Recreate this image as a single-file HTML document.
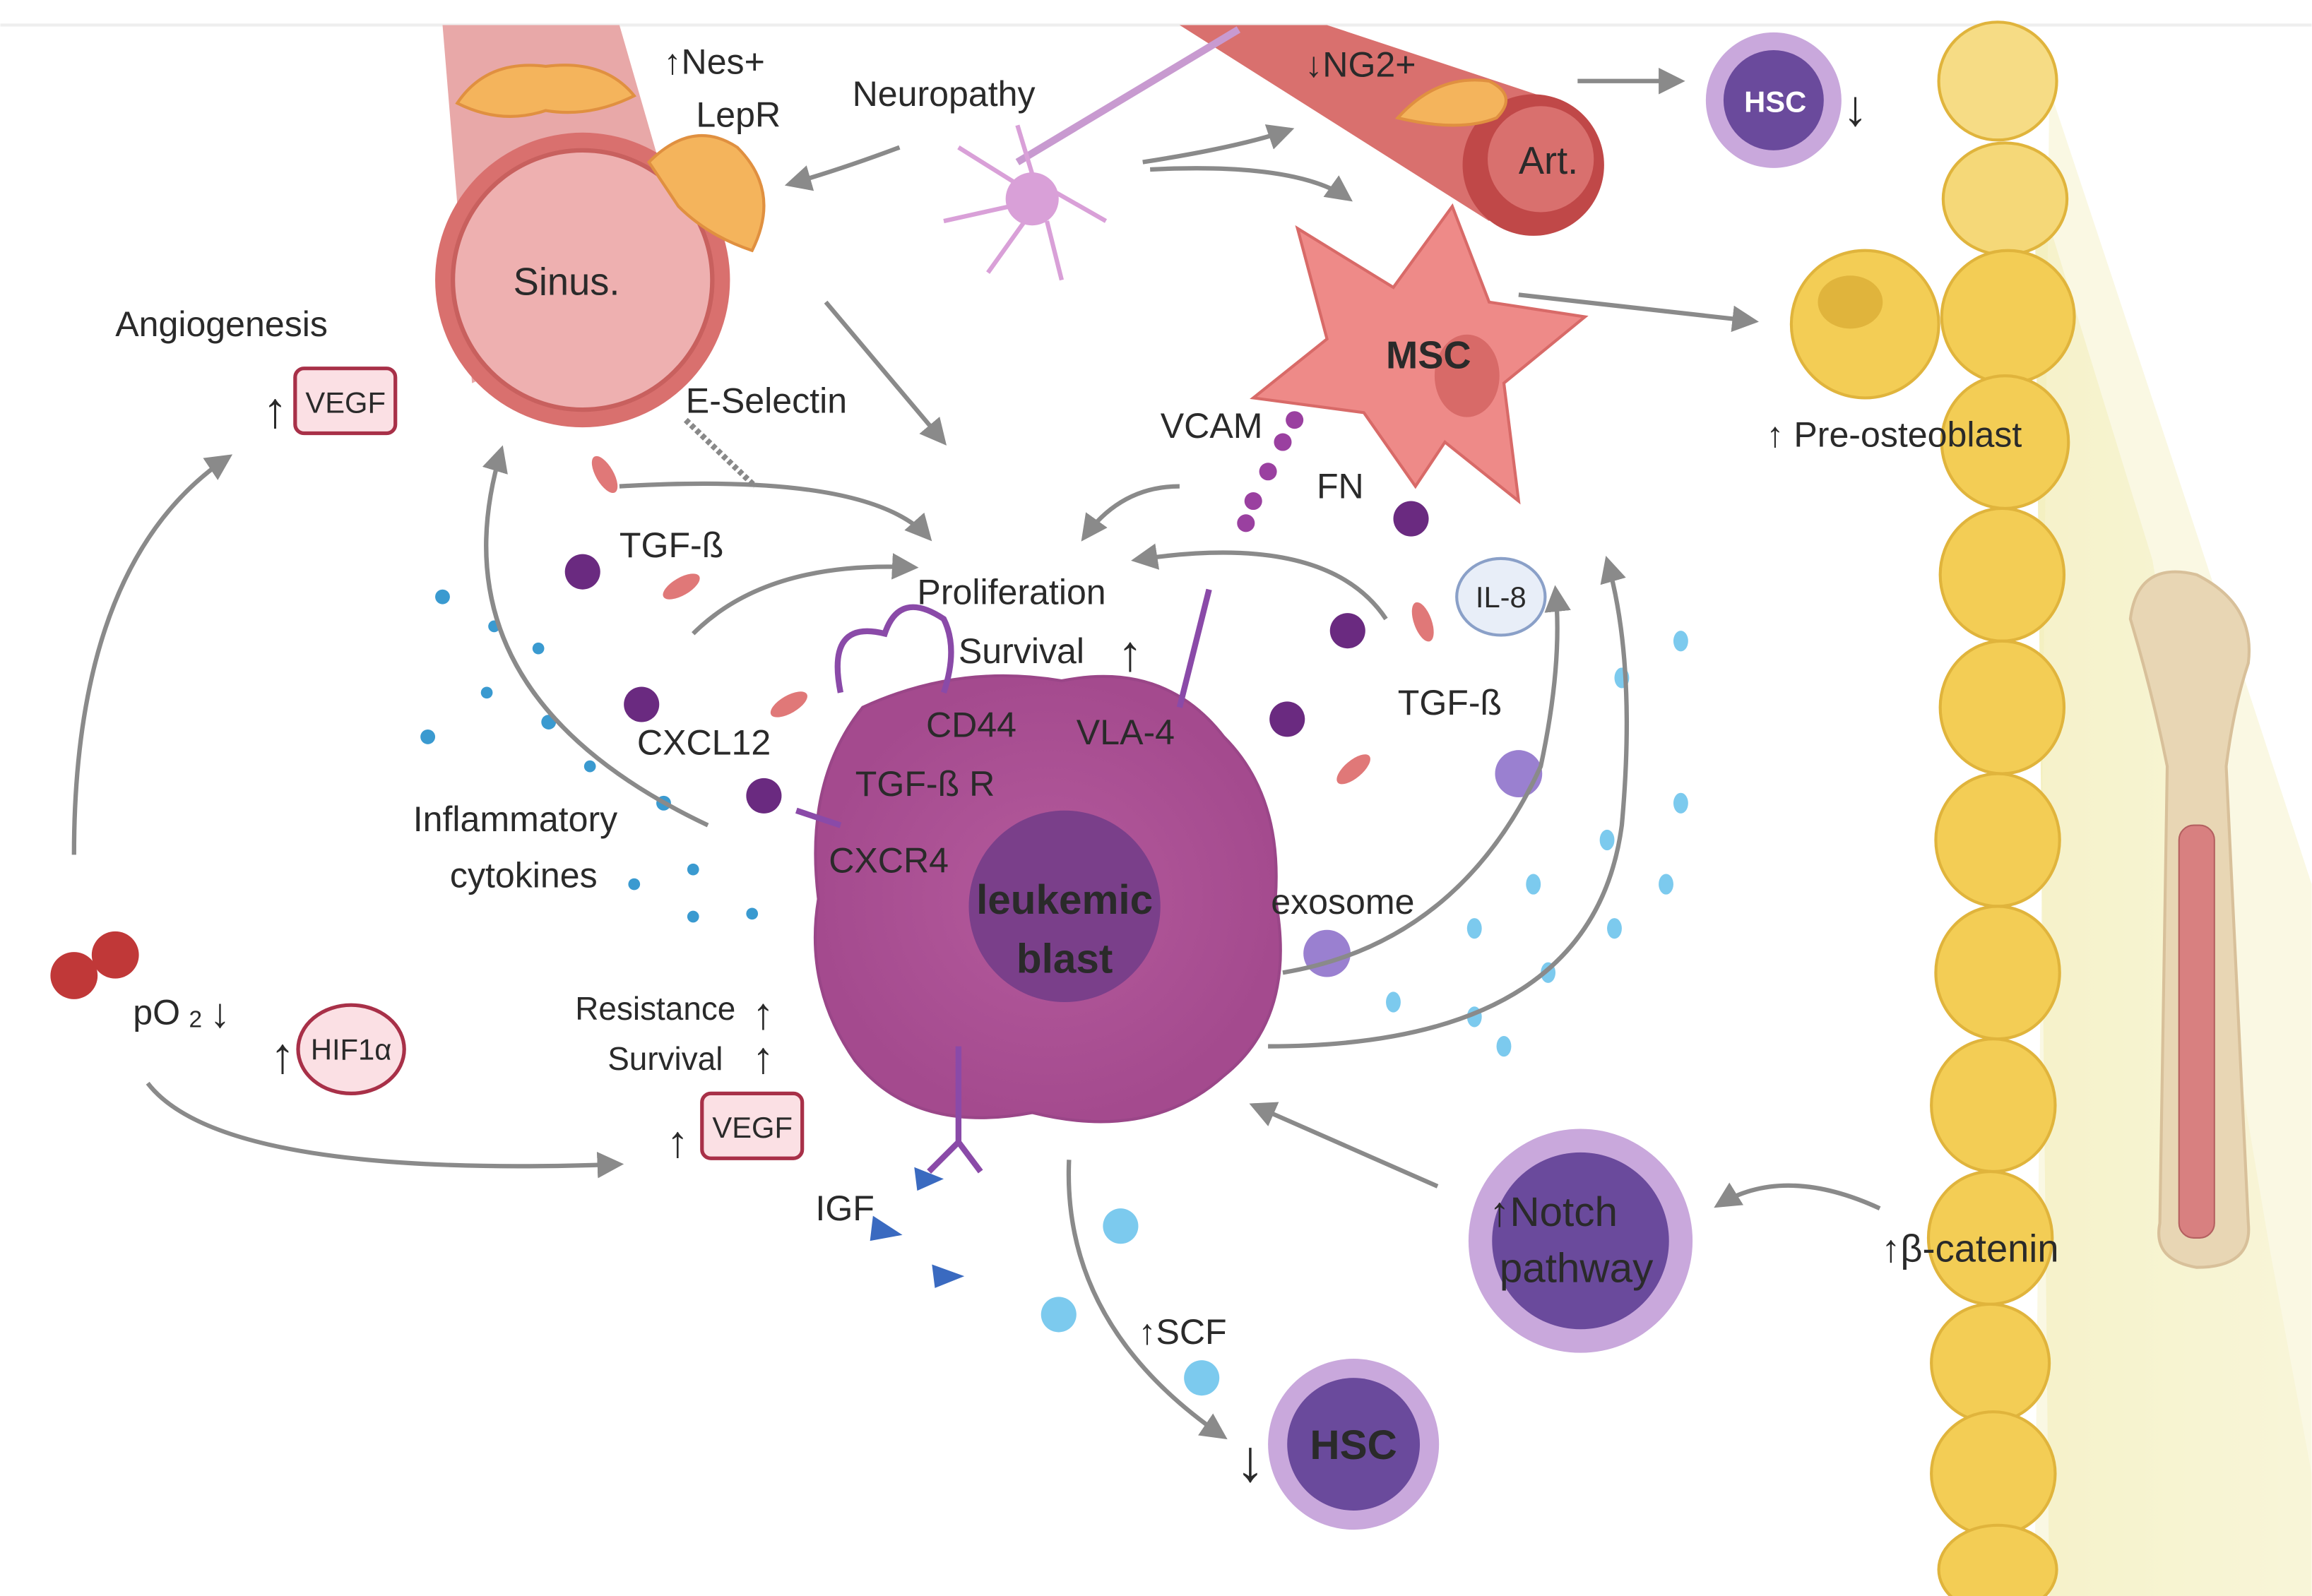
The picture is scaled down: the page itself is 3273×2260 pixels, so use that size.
<!DOCTYPE html>
<html><head><meta charset="utf-8"><style>
html,body{margin:0;padding:0;background:#fff}
svg{display:block}
text{font-family:"Liberation Sans",sans-serif;fill:#2a2a2a}
.b{font-weight:bold}
</style></head><body>
<svg width="3273" height="2260" viewBox="0 0 1568 1083" xmlns="http://www.w3.org/2000/svg">
<defs>
<marker id="ah" markerWidth="6" markerHeight="6" refX="5" refY="3" orient="auto" markerUnits="strokeWidth"><path d="M0,0 L6,3 L0,6 z" fill="#8a8a8a"/></marker>
<linearGradient id="cone" x1="0" y1="0" x2="1" y2="0"><stop offset="0" stop-color="#f4f0c0"/><stop offset="1" stop-color="#faf8e4"/></linearGradient>
<radialGradient id="blob" cx="0.5" cy="0.5" r="0.5"><stop offset="0" stop-color="#b45a9c"/><stop offset="1" stop-color="#a44a8e"/></radialGradient>
</defs>
<rect width="1568" height="1083" fill="#fff"/>
<line x1="0" y1="17" x2="1568" y2="17" stroke="#eee" stroke-width="2"/>
<path d="M1380,120 L1460,380 L1540,850 L1568,1000 L1568,1083 L1390,1083 Z" fill="url(#cone)"/>
<path d="M1390,60 Q1470,300 1568,600 L1568,1083 L1380,1083 Z" fill="#f6f3d0" opacity="0.6"/>
<g fill="#f3cd55" stroke="#e0b43c" stroke-width="2">
<ellipse cx="1355" cy="55" rx="40" ry="40" fill="#f6dc85"/>
<ellipse cx="1360" cy="135" rx="42" ry="38" fill="#f5d878"/>
<ellipse cx="1362" cy="215" rx="45" ry="45"/>
<ellipse cx="1360" cy="300" rx="43" ry="45"/>
<ellipse cx="1358" cy="390" rx="42" ry="45"/>
<ellipse cx="1358" cy="480" rx="42" ry="45"/>
<ellipse cx="1355" cy="570" rx="42" ry="45"/>
<ellipse cx="1355" cy="660" rx="42" ry="45"/>
<ellipse cx="1352" cy="750" rx="42" ry="45"/>
<ellipse cx="1350" cy="840" rx="42" ry="45"/>
<ellipse cx="1350" cy="925" rx="40" ry="40"/>
<ellipse cx="1352" cy="1000" rx="42" ry="42"/>
<ellipse cx="1355" cy="1065" rx="40" ry="30"/>
</g>
<ellipse cx="1265" cy="220" rx="50" ry="50" fill="#f3cd55" stroke="#e0b43c" stroke-width="2"/>
<ellipse cx="1255" cy="205" rx="22" ry="18" fill="#e0b43c"/>
<path d="M1445,420 Q1450,380 1490,390 Q1530,410 1525,450 Q1515,480 1510,520 L1525,830 Q1528,860 1490,860 Q1460,855 1465,830 L1470,520 Q1460,470 1445,420 Z" fill="#e8d6b4" stroke="#d8c09a" stroke-width="2"/>
<rect x="1478" y="560" width="24" height="280" rx="10" fill="#d88080" stroke="#b46060"/>
<path d="M300,17 L420,17 L470,190 L320,260 Z" fill="#e8a8a8"/>
<circle cx="395" cy="190" r="100" fill="#d9706e"/>
<circle cx="395" cy="190" r="88" fill="#eeb0b0" stroke="#c8605e" stroke-width="3"/>
<text x="348" y="200" font-size="26">Sinus.</text>
<g fill="#f4b45c" stroke="#e09040" stroke-width="2">
<path d="M310,70 Q330,40 370,45 Q410,40 430,65 Q400,80 370,75 Q340,85 310,70Z"/>
<path d="M440,110 Q470,80 500,100 Q530,130 510,170 Q480,160 460,140 Z"/>
</g>
<path d="M800,17 L900,17 L1060,70 L1010,150 Z" fill="#d9706e"/>
<circle cx="1040" cy="112" r="48" fill="#c04848"/>
<circle cx="1045" cy="108" r="36" fill="#d9706e"/>
<text x="1030" y="118" font-size="26">Art.</text>
<path d="M948,80 Q975,50 1010,55 Q1030,65 1015,80 Q990,90 948,80Z" fill="#f4b45c" stroke="#e09040" stroke-width="2"/>
<line x1="690" y1="110" x2="840" y2="20" stroke="#c89ad0" stroke-width="5"/>
<circle cx="700" cy="135" r="18" fill="#d9a0d8"/>
<g stroke="#d9a0d8" stroke-width="3" fill="none">
<path d="M690,125 L650,100 M685,140 L640,150 M695,150 L670,185 M710,150 L720,190 M715,130 L750,150 M700,118 L690,85"/>
</g>
<circle cx="1203" cy="68" r="46" fill="#c9a8dc"/>
<circle cx="1203" cy="68" r="34" fill="#6a4a9c"/>
<text x="1183" y="76" font-size="20" font-weight="bold" style="fill:#fff">HSC</text>
<text x="1250" y="85" font-size="34" class="b">↓</text>
<path d="M880,155 L945,195 L985,140 L1010,205 L1075,215 L1020,260 L1030,340 L980,300 L960,330 L925,280 L850,270 L900,230 Z" fill="#ee8a88" stroke="#d86a68" stroke-width="2"/>
<ellipse cx="995" cy="255" rx="22" ry="28" fill="#d86a68"/>
<text x="940" y="250" font-size="26" font-weight="bold">MSC</text>
<path d="M585,480 Q650,450 720,462 Q790,448 830,500 Q870,540 865,610 Q880,690 830,730 Q780,775 700,755 Q620,770 580,720 Q545,670 555,610 Q545,530 585,480Z" fill="url(#blob)" stroke="#9a4688" stroke-width="2"/>
<circle cx="722" cy="615" r="65" fill="#7a3f8a"/>
<text x="722" y="620" font-size="28" font-weight="bold" text-anchor="middle">leukemic</text>
<text x="722" y="660" font-size="28" font-weight="bold" text-anchor="middle">blast</text>
<circle cx="1072" cy="842" r="76" fill="#c9a8dc"/>
<circle cx="1072" cy="842" r="60" fill="#6a4a9c"/>
<text x="1010" y="832" font-size="28">↑Notch</text>
<text x="1017" y="870" font-size="28">pathway</text>
<circle cx="918" cy="980" r="58" fill="#c9a8dc"/>
<circle cx="918" cy="980" r="45" fill="#6a4a9c"/>
<text x="918" y="990" font-size="28" font-weight="bold" text-anchor="middle">HSC</text>
<text x="838" y="1005" font-size="40" class="b">↓</text>
<circle cx="50" cy="662" r="16" fill="#c03838"/><circle cx="78" cy="648" r="16" fill="#c03838"/>
<rect x="200" y="250" width="68" height="44" rx="6" fill="#fbe0e4" stroke="#a83048" stroke-width="2.5"/>
<text x="207" y="280" font-size="20">VEGF</text>
<rect x="476" y="742" width="68" height="44" rx="6" fill="#fbe0e4" stroke="#a83048" stroke-width="2.5"/>
<text x="483" y="772" font-size="20">VEGF</text>
<ellipse cx="238" cy="712" rx="36" ry="30" fill="#fbe0e4" stroke="#a83048" stroke-width="2.5"/>
<text x="238" y="719" font-size="20" text-anchor="middle">HIF1α</text>
<ellipse cx="1018" cy="405" rx="30" ry="26" fill="#e8eef8" stroke="#8aa0c8" stroke-width="2"/>
<text x="1018" y="412" font-size="20" text-anchor="middle">IL-8</text>
<g fill="#6a2a80">
<circle cx="395" cy="388" r="12"/><circle cx="435" cy="478" r="12"/><circle cx="518" cy="540" r="12"/><circle cx="873" cy="488" r="12"/><circle cx="914" cy="428" r="12"/><circle cx="957" cy="352" r="12"/>
</g>
<g fill="#e07878">
<ellipse cx="410" cy="322" rx="6" ry="14" transform="rotate(-30 410 322)"/><ellipse cx="462" cy="398" rx="6" ry="14" transform="rotate(60 462 398)"/><ellipse cx="535" cy="478" rx="6" ry="14" transform="rotate(60 535 478)"/><ellipse cx="965" cy="422" rx="6" ry="14" transform="rotate(-20 965 422)"/><ellipse cx="918" cy="522" rx="6" ry="14" transform="rotate(50 918 522)"/>
</g>
<g fill="#3a9ad0">
<circle cx="300" cy="405" r="5"/><circle cx="335" cy="425" r="4"/><circle cx="365" cy="440" r="4"/><circle cx="290" cy="500" r="5"/><circle cx="372" cy="490" r="5"/><circle cx="330" cy="470" r="4"/><circle cx="400" cy="520" r="4"/><circle cx="450" cy="545" r="5"/><circle cx="470" cy="590" r="4"/><circle cx="430" cy="600" r="4"/><circle cx="470" cy="622" r="4"/><circle cx="510" cy="620" r="4"/>
</g>
<g fill="#7ccaee">
<ellipse cx="1140" cy="435" rx="5" ry="7"/><ellipse cx="1100" cy="460" rx="5" ry="7"/><ellipse cx="1140" cy="545" rx="5" ry="7"/><ellipse cx="1090" cy="570" rx="5" ry="7"/><ellipse cx="1040" cy="600" rx="5" ry="7"/><ellipse cx="1000" cy="630" rx="5" ry="7"/><ellipse cx="1095" cy="630" rx="5" ry="7"/><ellipse cx="1050" cy="660" rx="5" ry="7"/><ellipse cx="1000" cy="690" rx="5" ry="7"/><ellipse cx="945" cy="680" rx="5" ry="7"/><ellipse cx="1130" cy="600" rx="5" ry="7"/><ellipse cx="1020" cy="710" rx="5" ry="7"/>
<circle cx="760" cy="832" r="12"/><circle cx="718" cy="892" r="12"/><circle cx="815" cy="935" r="12"/>
</g>
<circle cx="1030" cy="525" r="16" fill="#9a80d0"/><circle cx="900" cy="647" r="16" fill="#9a80d0"/>
<g fill="#3a6ac0"><path d="M592,825 L612,838 L590,842Z"/><path d="M632,858 L654,866 L634,874Z"/><path d="M620,792 L640,800 L622,808Z"/></g>
<g stroke="#8a4aa8" stroke-width="4" fill="none">
<path d="M650,710 L650,775 L630,795 M650,775 L665,795"/>
<path d="M570,470 Q560,420 600,430 Q610,400 640,420 Q650,440 640,470"/>
<path d="M800,480 L820,400"/>
<path d="M540,550 L570,560"/>
</g>
<g fill="#9a40a0"><circle cx="850" cy="340" r="6"/><circle cx="860" cy="320" r="6"/><circle cx="870" cy="300" r="6"/><circle cx="878" cy="285" r="6"/><circle cx="845" cy="355" r="6"/></g>
<g stroke="#8a8a8a" stroke-width="3" fill="none" marker-end="url(#ah)">
<path d="M50,580 Q50,380 155,310"/>
<path d="M100,735 Q150,800 420,790"/>
<path d="M610,100 Q570,115 535,125"/>
<path d="M775,110 Q840,100 875,88"/>
<path d="M780,115 Q880,110 915,135"/>
<path d="M1070,55 L1140,55"/>
<path d="M1030,200 L1190,218"/>
<path d="M560,205 L640,300"/>
<path d="M480,560 Q290,470 340,305"/>
<path d="M470,430 Q520,380 620,385"/>
<path d="M420,330 Q590,320 630,365"/>
<path d="M800,330 Q760,330 735,365"/>
<path d="M940,420 Q900,360 770,380"/>
<path d="M870,660 Q990,640 1045,520 Q1060,450 1055,400"/>
<path d="M860,710 Q1080,710 1100,560 Q1110,450 1090,380"/>
<path d="M975,805 L850,750"/>
<path d="M1275,820 Q1210,790 1165,818"/>
<path d="M725,787 Q720,900 830,975"/>
</g>
<line x1="465" y1="285" x2="512" y2="330" stroke="#888" stroke-width="4" stroke-dasharray="3,2"/>
<g font-size="24">
<text x="450" y="50">↑Nes+</text><text x="472" y="86">LepR</text>
<text x="578" y="72">Neuropathy</text>
<text x="885" y="52">↓NG2+</text>
<text x="78" y="228">Angiogenesis</text>
<text x="178" y="290" font-size="34" class="b">↑</text>
<text x="465" y="280">E-Selectin</text>
<text x="787" y="297">VCAM</text>
<text x="893" y="338">FN</text>
<text x="420" y="378">TGF-ß</text>
<text x="622" y="410">Proliferation</text>
<text x="650" y="450">Survival</text><text x="758" y="455" font-size="34" class="b">↑</text>
<text x="1198" y="303">↑ Pre-osteoblast</text>
<text x="948" y="485">TGF-ß</text>
<text x="432" y="512">CXCL12</text>
<text x="628" y="500">CD44</text>
<text x="730" y="505">VLA-4</text>
<text x="580" y="540">TGF-ß R</text>
<text x="280" y="564">Inflammatory</text>
<text x="305" y="602">cytokines</text>
<text x="562" y="592">CXCR4</text>
<text x="862" y="620">exosome</text>
<text x="90" y="695">pO</text><text x="128" y="697" font-size="16">2</text><text x="142" y="697" font-size="28" class="b">↓</text>
<text x="183" y="728" font-size="34" class="b">↑</text>
<text x="390" y="692" font-size="22">Resistance</text><text x="510" y="698" font-size="30" class="b">↑</text>
<text x="412" y="726" font-size="22">Survival</text><text x="510" y="728" font-size="30" class="b">↑</text>
<text x="452" y="785" font-size="30" class="b">↑</text>
<text x="553" y="828">IGF</text>
<text x="772" y="912">↑SCF</text>
<text x="1276" y="856" font-size="26">↑β-catenin</text>
</g>
</svg>
</body></html>
